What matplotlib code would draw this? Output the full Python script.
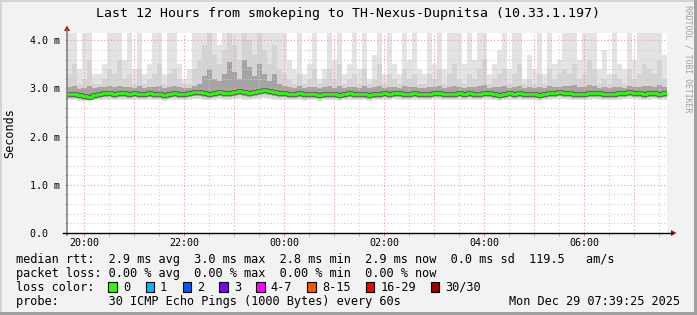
import numpy as np
import matplotlib
matplotlib.use('Agg')
import matplotlib.pyplot as plt
from matplotlib.patches import Rectangle, Polygon
from matplotlib.lines import Line2D

# canvas size in pixels (rrdtool style graph)
W, H = 697, 315

# 12 hours of data, one column every 6 minutes, starting 19:39:25
start = 19 + 39/60 + 25/3600
step = 0.1

# median rtt in ms
median_ms = [2.88, 2.89, 2.86, 2.84, 2.83, 2.87, 2.89, 2.90, 2.90, 2.89,
             2.90, 2.90, 2.89, 2.90, 2.88, 2.89, 2.90, 2.88, 2.89, 2.87,
             2.89, 2.90, 2.89, 2.89, 2.90, 2.92, 2.93, 2.90, 2.89, 2.91,
             2.92, 2.90, 2.91, 2.93, 2.94, 2.92, 2.91, 2.93, 2.95, 2.96,
             2.94, 2.92, 2.90, 2.91, 2.89, 2.89, 2.90, 2.88, 2.88, 2.89,
             2.87, 2.88, 2.89, 2.88, 2.87, 2.89, 2.90, 2.88, 2.89, 2.88,
             2.87, 2.88, 2.89, 2.90, 2.89, 2.91, 2.90, 2.89, 2.88, 2.90,
             2.89, 2.88, 2.89, 2.91, 2.90, 2.89, 2.88, 2.89, 2.90, 2.88,
             2.90, 2.89, 2.88, 2.91, 2.90, 2.89, 2.87, 2.88, 2.90, 2.89,
             2.90, 2.88, 2.89, 2.88, 2.87, 2.89, 2.90, 2.91, 2.93, 2.91,
             2.90, 2.89, 2.88, 2.89, 2.90, 2.91, 2.90, 2.89, 2.88, 2.89,
             2.90, 2.91, 2.92, 2.91, 2.90, 2.89, 2.90, 2.91, 2.89, 2.90]

# smoke: lowest ping
smoke_min = [2.76, 2.75, 2.74, 2.73, 2.72, 2.75, 2.76, 2.77, 2.76, 2.75,
             2.77, 2.76, 2.75, 2.77, 2.76, 2.75, 2.77, 2.76, 2.75, 2.74,
             2.76, 2.77, 2.76, 2.75, 2.77, 2.78, 2.78, 2.76, 2.75, 2.77,
             2.78, 2.76, 2.77, 2.78, 2.79, 2.77, 2.76, 2.78, 2.79, 2.80,
             2.79, 2.77, 2.76, 2.77, 2.75, 2.75, 2.76, 2.74, 2.75, 2.76,
             2.73, 2.75, 2.76, 2.75, 2.74, 2.76, 2.77, 2.75, 2.76, 2.75,
             2.74, 2.75, 2.76, 2.77, 2.76, 2.78, 2.77, 2.76, 2.75, 2.77,
             2.76, 2.75, 2.76, 2.78, 2.77, 2.76, 2.75, 2.76, 2.77, 2.75,
             2.77, 2.76, 2.75, 2.78, 2.77, 2.76, 2.74, 2.75, 2.77, 2.76,
             2.77, 2.75, 2.76, 2.75, 2.74, 2.76, 2.77, 2.78, 2.79, 2.78,
             2.77, 2.76, 2.75, 2.76, 2.77, 2.78, 2.77, 2.76, 2.75, 2.76,
             2.77, 2.78, 2.79, 2.78, 2.77, 2.76, 2.77, 2.78, 2.76, 2.77]

# smoke: dense part just above the median
smoke_mid = [3.02, 3.05, 2.98, 3.00, 3.05, 3.00, 3.02, 3.03, 3.04, 3.02,
             3.06, 3.02, 3.03, 3.01, 3.04, 3.00, 3.02, 3.03, 3.05, 3.00,
             3.02, 3.04, 3.02, 3.00, 3.01, 3.06, 3.10, 3.25, 3.40, 3.20,
             3.15, 3.30, 3.55, 3.35, 3.20, 3.60, 3.45, 3.25, 3.50, 3.30,
             3.15, 3.30, 3.10, 3.05, 3.03, 3.01, 3.04, 3.00, 3.02, 3.03,
             3.00, 3.02, 3.04, 3.01, 3.05, 3.00, 3.02, 3.03, 3.00, 3.04,
             3.00, 3.02, 3.05, 3.00, 3.03, 3.02, 3.00, 3.04, 3.02, 3.03,
             3.00, 3.01, 3.03, 3.02, 3.04, 3.00, 3.03, 3.06, 3.02, 3.00,
             3.03, 3.02, 3.04, 3.08, 3.00, 3.02, 3.03, 3.05, 3.00, 3.03,
             3.06, 3.00, 3.02, 3.01, 3.03, 3.00, 3.04, 3.02, 3.03, 3.05,
             3.04, 3.08, 3.02, 3.03, 3.07, 3.04, 3.00, 3.02, 3.00, 3.03,
             3.02, 3.01, 3.04, 3.02, 3.03, 3.06, 3.05, 3.03, 3.07, 3.02]

# smoke: upper quartile-ish pings
smoke_upper = [3.3, 3.5, 3.1, 3.2, 3.6, 3.1, 3.1, 3.2, 3.4, 3.3,
               3.6, 3.2, 3.3, 3.1, 3.4, 3.1, 3.2, 3.3, 3.5, 3.1,
               3.3, 3.4, 3.2, 3.1, 3.1, 3.4, 3.6, 3.9, 4.2, 3.7,
               3.5, 3.8, 4.2, 3.9, 3.6, 4.2, 4.0, 3.7, 4.2, 3.8,
               3.5, 3.9, 3.4, 3.3, 3.2, 3.1, 3.3, 3.1, 3.2, 3.4,
               3.1, 3.2, 3.4, 3.2, 3.5, 3.1, 3.2, 3.3, 3.1, 3.4,
               3.1, 3.2, 3.5, 3.1, 3.3, 3.2, 3.1, 3.4, 3.2, 3.3,
               3.1, 3.1, 3.3, 3.2, 3.4, 3.1, 3.3, 3.5, 3.2, 3.1,
               3.3, 3.2, 3.4, 3.6, 3.1, 3.2, 3.3, 3.4, 3.1, 3.3,
               3.5, 3.1, 3.2, 3.1, 3.3, 3.1, 3.4, 3.2, 3.3, 3.4,
               3.3, 3.5, 3.2, 3.3, 3.6, 3.4, 3.1, 3.2, 3.1, 3.3,
               3.2, 3.1, 3.4, 3.2, 3.3, 3.5, 3.4, 3.3, 3.6, 3.2]

# smoke: highest ping (off the chart above 4.15)
smoke_max = [4.2, 4.2, 3.4, 4.2, 4.2, 3.3, 3.3, 3.5, 4.2, 4.2,
             4.2, 3.6, 4.2, 3.4, 4.2, 3.3, 3.5, 4.2, 4.2, 3.3,
             4.2, 4.2, 3.5, 3.2, 3.4, 4.2, 4.2, 4.2, 4.2, 4.2,
             3.9, 4.2, 4.2, 4.2, 4.2, 4.2, 4.2, 4.2, 4.2, 4.2,
             4.2, 4.2, 4.2, 4.2, 3.6, 3.4, 4.2, 3.3, 3.5, 4.2,
             3.2, 3.4, 4.2, 3.6, 4.2, 3.3, 3.5, 4.2, 3.4, 4.2,
             3.2, 3.7, 4.2, 3.3, 4.2, 3.5, 3.3, 4.2, 3.6, 4.2,
             3.4, 3.3, 4.2, 3.5, 4.2, 3.4, 4.2, 4.2, 4.2, 3.5,
             4.2, 3.6, 4.2, 4.2, 3.3, 3.5, 3.8, 4.2, 3.4, 4.2,
             4.2, 3.2, 3.7, 3.4, 4.2, 3.3, 4.2, 3.5, 3.6, 4.2,
             4.2, 4.2, 3.6, 4.2, 4.2, 4.2, 3.4, 3.8, 3.3, 4.2,
             3.5, 3.4, 4.2, 3.6, 4.2, 4.2, 4.2, 4.2, 4.2, 3.7]

tick_hours = [20, 22, 24, 26, 28, 30]
tick_labels = ['20:00', '22:00', '00:00', '02:00', '04:00', '06:00']
y_ticks = [0, 1, 2, 3, 4]
y_labels = ['0.0  ', '1.0 m', '2.0 m', '3.0 m', '4.0 m']

loss_labels = ['0', '1', '2', '3', '4-7', '8-15', '16-29', '30/30']
loss_colors = ['#26ff00', '#00b8ff', '#0059ff', '#7e00ff', '#ff00ff',
               '#ff5500', '#ff0000', '#a10000']

legend_lines = [
    'median rtt:  2.9 ms avg  3.0 ms max  2.8 ms min  2.9 ms now  0.0 ms sd  119.5   am/s',
    'packet loss: 0.00 % avg  0.00 % max  0.00 % min  0.00 % now',
    'loss color:',
    'probe:       30 ICMP Echo Pings (1000 Bytes) every 60s',
]

plt.rcParams['font.family'] = 'DejaVu Sans Mono'


def fx(x):
    return x / W


def fy(y):
    return 1 - y / H


fig = plt.figure(figsize=(W/100, H/100), dpi=100, facecolor='#f2f2f2')
ax = fig.add_axes([fx(67), fy(233), 600/W, 200/H])
ax.set_facecolor('white')

n = len(median_ms)
edges = start + step*np.arange(n + 1)


def ext(v):
    v = np.asarray(v, dtype=float)
    return np.append(v, v[-1])


med = ext(median_ms)
lo = ext(smoke_min)

# smoke layers, light to dark
ax.fill_between(edges, lo, ext(smoke_max), step='post', color='#e3e3e3', lw=0, zorder=1)
ax.fill_between(edges, lo + 0.03, ext(smoke_upper), step='post', color='#d4d4d4', lw=0, zorder=1.1)
ax.fill_between(edges, med - 0.08, ext(smoke_mid), step='post', color='#a4a4a4', lw=0, zorder=1.2)

# grid (drawn over the smoke, like rrdtool)
dots = (0, (1, 2))
for v in np.arange(0.2, 4.15, 0.2):
    major = abs(v - round(v)) < 1e-6
    ax.axhline(v, color='#e4a0a0' if major else '#cfcfcf', lw=0.8, ls=dots, zorder=2)
for hr in np.arange(20, 31.7, 0.5):
    major = abs(hr - round(hr)) < 1e-6
    ax.axvline(hr, color='#e4a0a0' if major else '#cfcfcf', lw=0.8, ls=dots, zorder=2)

# median line
ax.step(edges, med, where='post', color='#585858', lw=3.3, zorder=3)
ax.step(edges, med, where='post', color=loss_colors[0], lw=2.0, zorder=4)

ax.set_xlim(start, start + 12)
ax.set_ylim(0, 4.15)
for s in ax.spines.values():
    s.set_visible(False)

ax.set_xticks(tick_hours)
ax.set_xticklabels(tick_labels, fontsize=7.2)
ax.set_xticks(np.arange(20, 31.7, 0.5), minor=True)
ax.tick_params(axis='x', which='major', length=2.2, width=0.7, color='#d08080', pad=1.5)
ax.tick_params(axis='x', which='minor', length=2.2, width=0.7, color='#b0b0b0')

ax.set_yticks(y_ticks)
ax.set_yticklabels(y_labels, fontsize=7.2)
ax.set_yticks(np.arange(0, 4.15, 0.2), minor=True)
ax.tick_params(axis='y', which='both', length=1.5, width=0.7, color='#b0b0b0', pad=25.2)
for lab in ax.get_yticklabels():
    lab.set_ha('left')

# axes lines with arrow heads
fig.add_artist(Line2D([fx(67), fx(67)], [fy(235), fy(30)], color='#808080', lw=1.2))
fig.add_artist(Line2D([fx(63), fx(672)], [fy(233), fy(233)], color='black', lw=1.0))
fig.add_artist(Polygon([(fx(64), fy(31)), (fx(70), fy(31)), (fx(67), fy(25.5))],
                       closed=True, color='#a01818', lw=0))
fig.add_artist(Polygon([(fx(671), fy(230)), (fx(671), fy(236)), (fx(676.5), fy(233))],
                       closed=True, color='#a01818', lw=0))

# 3d frame of the image
fig.add_artist(Rectangle((0, 0), fx(2), 1, transform=fig.transFigure, color='#d4d4d4', lw=0))
fig.add_artist(Rectangle((0, fy(2)), 1, 2/H, transform=fig.transFigure, color='#d4d4d4', lw=0))
fig.add_artist(Rectangle((fx(694), 0), 3/W, 1, transform=fig.transFigure, color='#a0a0a0', lw=0))
fig.add_artist(Rectangle((0, 0), 1, 3/H, transform=fig.transFigure, color='#a0a0a0', lw=0))

# texts
fig.text(fx(347.5), fy(14), 'Last 12 Hours from smokeping to TH-Nexus-Dupnitsa (10.33.1.197)',
         ha='center', va='center', fontsize=9.55)
fig.text(fx(10), fy(133), 'Seconds', rotation=90, ha='center', va='center', fontsize=8.5)
fig.text(fx(688), fy(59), 'RRDTOOL / TOBI OETIKER', rotation=270, ha='center', va='center',
         fontsize=5.9, color='#a0a0a0')

for i, line in enumerate(legend_lines):
    fig.text(fx(16), fy(263 + 14*i), line, ha='left', va='baseline', fontsize=8.53)
fig.text(fx(680), fy(305), 'Mon Dec 29 07:39:25 2025', ha='right', va='baseline', fontsize=8.53)

# loss colour boxes
box_x = [108.3, 145.7, 182.7, 219, 256, 307, 365.7, 430.7]
lab_x = [123.3, 160, 197.3, 234.3, 270.7, 322, 380.7, 445.7]
for c, lab, bx, tx in zip(loss_colors, loss_labels, box_x, lab_x):
    fig.add_artist(Rectangle((fx(bx), fy(292)), 8.5/W, 10.5/H, transform=fig.transFigure,
                             facecolor=c, edgecolor='black', lw=0.8))
    fig.text(fx(tx), fy(291), lab, ha='left', va='baseline', fontsize=8.53)

fig.savefig('out.png', dpi=100, facecolor=fig.get_facecolor())
